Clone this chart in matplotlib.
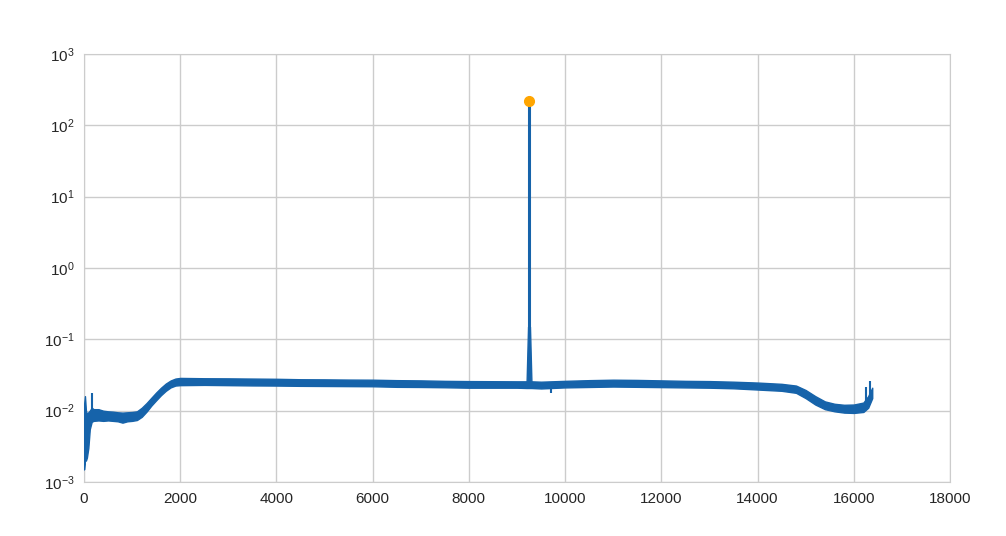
import matplotlib
matplotlib.use("Agg")
import matplotlib.pyplot as plt

# envelope of the noisy spectrum (x in bins)
freq = [0, 20, 40, 60, 90, 120, 160, 200, 300, 400, 500, 600, 700, 800, 900,
        1000, 1100, 1200, 1300, 1400, 1500, 1600, 1700, 1800, 1900, 2000,
        2500, 3000, 3500, 4000, 4500, 5000, 5500, 6000, 6500, 7000, 7500,
        8000, 8500, 9000, 9200, 9230, 9270, 9300, 9500, 10000, 10500, 11000,
        11500, 12000, 12500, 13000, 13500, 14000, 14500, 14800, 15000, 15200,
        15400, 15600, 15800, 16000, 16200, 16300, 16384]
low = [0.0015, 0.0020, 0.0020, 0.0022, 0.0030, 0.0055, 0.0070, 0.0072, 0.0073,
       0.0072, 0.0073, 0.0072, 0.0071, 0.0068, 0.0071, 0.0072, 0.0074, 0.0082,
       0.0097, 0.0118, 0.0140, 0.0165, 0.0190, 0.0212, 0.0225, 0.0228,
       0.0230, 0.0228, 0.0226, 0.0225, 0.0223, 0.0222, 0.0221, 0.0220,
       0.0216, 0.0215, 0.0213, 0.0210, 0.0210, 0.0210, 0.0208, 0.0208,
       0.0208, 0.0208, 0.0205, 0.0212, 0.0215, 0.0218, 0.0216, 0.0214,
       0.0212, 0.0210, 0.0206, 0.0198, 0.0190, 0.0178, 0.0150, 0.0122,
       0.0105, 0.0098, 0.0094, 0.0093, 0.0096, 0.0110, 0.0150]
high = [0.0120, 0.0160, 0.0100, 0.0090, 0.0095, 0.0100, 0.0110, 0.0105, 0.0105,
        0.0100, 0.0098, 0.0097, 0.0095, 0.0094, 0.0095, 0.0096, 0.0098, 0.0110,
        0.0128, 0.0152, 0.0180, 0.0210, 0.0240, 0.0265, 0.0282, 0.0288,
        0.0285, 0.0284, 0.0282, 0.0280, 0.0276, 0.0275, 0.0273, 0.0272,
        0.0268, 0.0266, 0.0262, 0.0260, 0.0259, 0.0258, 0.0258, 0.1500,
        0.1500, 0.0258, 0.0255, 0.0262, 0.0268, 0.0272, 0.0270, 0.0266,
        0.0262, 0.0260, 0.0255, 0.0248, 0.0238, 0.0225, 0.0195, 0.0160,
        0.0135, 0.0125, 0.0121, 0.0122, 0.0130, 0.0160, 0.0210]

# isolated glitches sticking out of the noise band
glitch_x = [160, 9707, 16250, 16340]
glitch_lo = [0.0100, 0.0178, 0.0130, 0.0150]
glitch_hi = [0.0178, 0.0210, 0.0214, 0.0263]

# the tone
peak_x = 9250
peak_base = 0.15
peak_y = 218

blue = "#1663aa"

plt.rcParams["font.family"] = ["Liberation Sans", "DejaVu Sans"]

fig = plt.figure(figsize=(10.06, 5.36), dpi=100)
ax = fig.add_axes([0.0835, 0.1007, 0.8608, 0.7985])

ax.fill_between(freq, low, high, color=blue, lw=1.0, edgecolor=blue, zorder=3)
ax.vlines(glitch_x, glitch_lo, glitch_hi, color=blue, lw=1.5, zorder=3)
ax.vlines(peak_x, peak_base, peak_y, color=blue, lw=2.2, zorder=3)
ax.plot(peak_x, peak_y, "o", color="orange", ms=7, zorder=4)

ax.set_yscale("log")
ax.set_xlim(0, 18000)
ax.set_ylim(1e-3, 1e3)
ax.set_xticks(range(0, 18001, 2000))
ax.grid(True, color="#cccccc", lw=1)
ax.set_axisbelow(True)
ax.minorticks_off()
for s in ax.spines.values():
    s.set_color("#cccccc")
ax.tick_params(length=0, labelsize=11, colors="#262626", pad=7)

fig.savefig("out.png", dpi=100)
